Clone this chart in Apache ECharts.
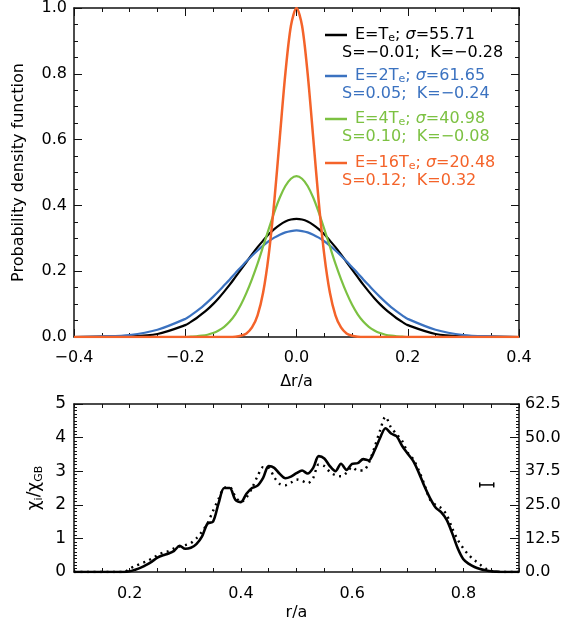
<!DOCTYPE html>
<html>
<head>
<meta charset="utf-8">
<script src="https://cdn.jsdelivr.net/npm/echarts@6/dist/echarts.min.js"></script>
<style>
html, body { margin: 0; padding: 0; background: #fff; }
#main { width: 566px; height: 630px; }
</style>
</head>
<body>
<div id="main"></div>
<script>
// ---- top panel: PDF of radial displacement ----
var pdfX = [-0.4, -0.35, -0.3, -0.25, -0.2, -0.19, -0.18, -0.17, -0.16, -0.15, -0.14, -0.13, -0.12, -0.11, -0.1,
    -0.09, -0.08, -0.07, -0.06, -0.05, -0.04, -0.03, -0.02, -0.01, 0,
    0.01, 0.02, 0.03, 0.04, 0.05, 0.06, 0.07, 0.08, 0.09, 0.1,
    0.11, 0.12, 0.13, 0.14, 0.15, 0.16, 0.17, 0.18, 0.19, 0.2, 0.25, 0.3, 0.35, 0.4];
var pdfT1 = [0, 0.001, 0.002, 0.009, 0.036, 0.046, 0.057, 0.070, 0.084, 0.100, 0.118, 0.138, 0.159, 0.182, 0.205,
    0.228, 0.251, 0.273, 0.293, 0.312, 0.328, 0.341, 0.351, 0.357, 0.359,
    0.357, 0.351, 0.341, 0.328, 0.312, 0.293, 0.273, 0.251, 0.228, 0.205,
    0.182, 0.159, 0.138, 0.118, 0.100, 0.084, 0.070, 0.057, 0.046, 0.036, 0.009, 0.002, 0.001, 0];
var pdfT2 = [0, 0.002, 0.006, 0.022, 0.055, 0.066, 0.078, 0.091, 0.106, 0.122, 0.139, 0.157, 0.175, 0.194, 0.212,
    0.230, 0.247, 0.263, 0.278, 0.291, 0.302, 0.311, 0.318, 0.322, 0.324,
    0.322, 0.318, 0.311, 0.302, 0.291, 0.278, 0.263, 0.247, 0.230, 0.212,
    0.194, 0.175, 0.157, 0.139, 0.122, 0.106, 0.091, 0.078, 0.066, 0.055, 0.022, 0.006, 0.002, 0];
var pdfT4 = [0, 0, 0, 0, 0, 0.001, 0.002, 0.004, 0.007, 0.012, 0.020, 0.031, 0.047, 0.069, 0.098,
    0.134, 0.176, 0.223, 0.275, 0.328, 0.379, 0.424, 0.459, 0.481, 0.489,
    0.481, 0.459, 0.424, 0.379, 0.328, 0.275, 0.223, 0.176, 0.134, 0.098,
    0.069, 0.047, 0.031, 0.020, 0.012, 0.007, 0.004, 0.002, 0.001, 0, 0, 0, 0, 0];
var pdfT16 = [0, 0, 0, 0, 0, 0, 0, 0, 0, 0, 0, 0, 0, 0.001, 0.004,
    0.011, 0.029, 0.066, 0.135, 0.249, 0.411, 0.607, 0.801, 0.946, 1.0,
    0.946, 0.801, 0.607, 0.411, 0.249, 0.135, 0.066, 0.029, 0.011, 0.004,
    0.001, 0, 0, 0, 0, 0, 0, 0, 0, 0, 0, 0, 0, 0];

var pdfEnergy = ['', '2', '4', '16'];
var pdfSigma = ['55.71', '61.65', '40.98', '20.48'];
var pdfSK = ['S=\u22120.01;  K=\u22120.28', 'S=0.05;  K=\u22120.24', 'S=0.10;  K=\u22120.08', 'S=0.12;  K=0.32'];
var pdfColors = ['#000000', '#3b72c0', '#7cc142', '#f4632a'];
var pdfLegendY = [35, 76, 119, 163];

// ---- bottom panel: chi_i / chi_GB profile ----
var rX = [0.10, 0.11, 0.12, 0.13, 0.14, 0.15, 0.16, 0.17, 0.18, 0.19,
    0.20, 0.21, 0.22, 0.23, 0.24, 0.25, 0.26, 0.27, 0.28, 0.29,
    0.30, 0.31, 0.32, 0.33, 0.34, 0.35, 0.36, 0.37, 0.38, 0.39,
    0.40, 0.41, 0.42, 0.43, 0.44, 0.45, 0.46, 0.47, 0.48, 0.49,
    0.50, 0.51, 0.52, 0.53, 0.54, 0.55, 0.56, 0.57, 0.58, 0.59,
    0.60, 0.61, 0.62, 0.63, 0.64, 0.65, 0.66, 0.67, 0.68, 0.69,
    0.70, 0.71, 0.72, 0.73, 0.74, 0.75, 0.76, 0.77, 0.78, 0.79,
    0.80, 0.81, 0.82, 0.83, 0.84, 0.85, 0.86, 0.87, 0.88, 0.89, 0.90];
var chiSolid = [0, 0, 0, 0, 0, 0, 0, 0, 0, 0,
    0.02, 0.07, 0.13, 0.21, 0.31, 0.43, 0.50, 0.55, 0.63, 0.78,
    0.69, 0.72, 0.83, 1.05, 1.44, 1.50, 2.05, 2.50, 2.50, 2.15,
    2.08, 2.33, 2.50, 2.57, 2.80, 3.15, 3.10, 2.92, 2.79, 2.84,
    2.94, 3.02, 2.93, 3.10, 3.45, 3.38, 3.15, 3.00, 3.22, 3.04,
    3.22, 3.24, 3.36, 3.32, 3.60, 3.98, 4.28, 4.12, 4.04, 3.75,
    3.52, 3.30, 2.95, 2.55, 2.20, 1.92, 1.78, 1.55, 1.15, 0.70,
    0.38, 0.24, 0.15, 0.09, 0.05, 0.02, 0.01, 0, 0, 0, 0];
// dotted curve, right axis units
var chiDotted = [0, 0, 0, 0, 0, 0, 0, 0, 0, 0,
    1.25, 2.25, 3.1, 3.9, 5.0, 6.25, 7.25, 7.75, 8.75, 9.5,
    10.0, 10.75, 12.5, 15.0, 18.1, 22.75, 27.25, 31.25, 31.5, 28.1,
    26.0, 27.75, 31.25, 35.6, 39.0, 38.75, 35.25, 32.75, 32.25, 33.25,
    34.4, 33.9, 33.0, 35.0, 40.0, 39.4, 37.25, 36.0, 35.6, 36.9,
    39.0, 37.75, 37.75, 40.6, 46.25, 52.5, 57.75, 53.75, 51.25, 48.75,
    44.4, 41.9, 37.75, 32.5, 26.9, 25.0, 23.75, 21.25, 16.25, 11.9,
    8.75, 6.25, 4.4, 2.75, 1.25, 0.4, 0, 0, 0, 0, 0];
var errX = [0.842];
var errY = [32.4];
var errHalfWidth = [0.0126];

var FONT = 'DejaVu Sans';

function pairs(xs, ys) {
    return xs.map(function (x, i) { return [x, ys[i]]; });
}

function legendGraphic() {
    var items = [];
    pdfColors.forEach(function (c, i) {
        var y = pdfLegendY[i];
        items.push({
            type: 'line',
            shape: {x1: 325, y1: y, x2: 347, y2: y},
            style: {stroke: c, lineWidth: 2.5}
        });
        items.push({
            type: 'text',
            x: 355, y: y,
            style: {
                text: '{n|E=' + pdfEnergy[i] + 'T}{s|e}{n|; }{g|\u03c3}{n|=' + pdfSigma[i] + '}',
                verticalAlign: 'middle',
                rich: {
                    n: {fontFamily: FONT, fontSize: 16, fill: c, lineHeight: 18},
                    s: {fontFamily: FONT, fontSize: 11, fill: c, lineHeight: 11, verticalAlign: 'bottom', padding: [6, 0, 0, 0]},
                    g: {fontFamily: FONT, fontSize: 16, fill: c, fontStyle: 'italic', lineHeight: 18}
                }
            }
        });
        items.push({
            type: 'text',
            x: 342, y: y + 18,
            style: {text: pdfSK[i], fill: c, fontFamily: FONT, fontSize: 16, verticalAlign: 'middle'}
        });
    });
    return items;
}

function initChart() {
    var myChart = echarts.init(document.getElementById('main'), null, {renderer: 'canvas'});
    var axisLine = {show: true, onZero: false, lineStyle: {color: '#111', width: 1.5}};
    var label16 = {color: '#000', fontFamily: FONT, fontSize: 16};

    var option = {
        animation: false,
        backgroundColor: '#fff',
        grid: [
            {left: 74, right: 47, top: 4, height: 333},
            {left: 74, right: 47, top: 404, height: 168}
        ],
        xAxis: [
            {
                gridIndex: 0, type: 'value', min: -0.4, max: 0.4, interval: 0.2,
                name: '\u0394r/a', nameLocation: 'middle', nameGap: 37,
                nameTextStyle: {color: '#000', fontFamily: FONT, fontSize: 16},
                axisLine: axisLine,
                axisTick: {inside: true, length: 8, lineStyle: {color: '#111'}},
                minorTick: {show: true, splitNumber: 4, length: 4, lineStyle: {color: '#111'}},
                axisLabel: Object.assign({margin: 13, formatter: function (v) { return v.toFixed(1).replace('-', '\u2212'); }}, label16),
                splitLine: {show: false}
            },
            {
                gridIndex: 0, type: 'value', position: 'top', min: -0.4, max: 0.4, interval: 0.2,
                axisLine: axisLine,
                axisTick: {inside: true, length: 8, lineStyle: {color: '#111'}},
                minorTick: {show: true, splitNumber: 4, length: 4, lineStyle: {color: '#111'}},
                axisLabel: {show: false}, splitLine: {show: false}
            },
            {
                gridIndex: 1, type: 'value', min: 0.1, max: 0.9, interval: 0.05,
                name: 'r/a', nameLocation: 'middle', nameGap: 33,
                nameTextStyle: {color: '#000', fontFamily: FONT, fontSize: 16},
                axisLine: axisLine,
                axisTick: {inside: true, length: 4, lineStyle: {color: '#111'}},
                axisLabel: Object.assign({
                    margin: 14,
                    formatter: function (v) {
                        var k = v * 5;
                        if (Math.abs(k - Math.round(k)) < 1e-6 && v > 0.15 && v < 0.85) {
                            return v.toFixed(1);
                        }
                        return '';
                    }
                }, label16),
                splitLine: {show: false}
            },
            {
                gridIndex: 1, type: 'value', position: 'top', min: 0.1, max: 0.9, interval: 0.05,
                axisLine: axisLine,
                axisTick: {inside: true, length: 4, lineStyle: {color: '#111'}},
                axisLabel: {show: false}, splitLine: {show: false}
            }
        ],
        yAxis: [
            {
                gridIndex: 0, type: 'value', min: 0, max: 1, interval: 0.2,
                name: 'Probability density function', nameLocation: 'middle', nameGap: 47,
                nameTextStyle: {color: '#000', fontFamily: FONT, fontSize: 16},
                axisLine: axisLine,
                axisTick: {inside: true, length: 8, lineStyle: {color: '#111'}},
                minorTick: {show: true, splitNumber: 4, length: 4, lineStyle: {color: '#111'}},
                axisLabel: Object.assign({margin: 7, formatter: function (v) { return v.toFixed(1); }}, label16),
                splitLine: {show: false}
            },
            {
                gridIndex: 0, type: 'value', position: 'right', min: 0, max: 1, interval: 0.2,
                axisLine: axisLine,
                axisTick: {inside: true, length: 8, lineStyle: {color: '#111'}},
                minorTick: {show: true, splitNumber: 4, length: 4, lineStyle: {color: '#111'}},
                axisLabel: {show: false}, splitLine: {show: false}
            },
            {
                gridIndex: 1, type: 'value', min: 0, max: 5, interval: 1,
                name: '{a|\u03c7}{s|i}{a|/\u03c7}{s|GB}', nameLocation: 'middle', nameGap: 26,
                nameTextStyle: {
                    color: '#000',
                    rich: {
                        a: {fontFamily: FONT, fontSize: 17, color: '#000', lineHeight: 20},
                        s: {fontFamily: FONT, fontSize: 11, color: '#000', lineHeight: 11, verticalAlign: 'bottom', padding: [7, 0, 0, 0]}
                    }
                },
                axisLine: axisLine,
                axisTick: {inside: true, length: 9, lineStyle: {color: '#111'}},
                minorTick: {show: true, splitNumber: 10, length: 3, lineStyle: {color: '#111'}},
                axisLabel: Object.assign({margin: 8}, label16, {fontSize: 17}),
                splitLine: {show: false}
            },
            {
                gridIndex: 1, type: 'value', position: 'right', min: 0, max: 62.5, interval: 12.5,
                axisLine: axisLine,
                axisTick: {inside: true, length: 9, lineStyle: {color: '#111'}},
                minorTick: {show: true, splitNumber: 10, length: 3, lineStyle: {color: '#111'}},
                axisLabel: Object.assign({margin: 6, formatter: function (v) { return v.toFixed(1); }}, label16),
                splitLine: {show: false}
            }
        ],
        graphic: legendGraphic(),
        series: [
            {type: 'line', xAxisIndex: 0, yAxisIndex: 0, data: pairs(pdfX, pdfT1), smooth: 0.3, showSymbol: false, lineStyle: {color: pdfColors[0], width: 2.2}},
            {type: 'line', xAxisIndex: 0, yAxisIndex: 0, data: pairs(pdfX, pdfT2), smooth: 0.3, showSymbol: false, lineStyle: {color: pdfColors[1], width: 2.2}},
            {type: 'line', xAxisIndex: 0, yAxisIndex: 0, data: pairs(pdfX, pdfT4), smooth: 0.3, showSymbol: false, lineStyle: {color: pdfColors[2], width: 2.2}},
            {type: 'line', xAxisIndex: 0, yAxisIndex: 0, data: pairs(pdfX, pdfT16), smooth: 0.3, showSymbol: false, lineStyle: {color: pdfColors[3], width: 2.5}},
            {type: 'line', xAxisIndex: 2, yAxisIndex: 2, data: pairs(rX, chiSolid), smooth: 0.3, showSymbol: false, lineStyle: {color: '#000', width: 2.6}},
            {type: 'line', xAxisIndex: 2, yAxisIndex: 3, data: pairs(rX, chiDotted), smooth: 0.3, showSymbol: false, lineStyle: {color: '#000', width: 2.4, type: [2, 4.5], cap: 'butt'}},
            {
                type: 'custom', xAxisIndex: 2, yAxisIndex: 3,
                data: errX.map(function (x, i) { return [x, errY[i], errHalfWidth[i]]; }),
                renderItem: function (params, api) {
                    var l = api.coord([api.value(0) - api.value(2), api.value(1)]);
                    var r = api.coord([api.value(0) + api.value(2), api.value(1)]);
                    var st = {stroke: '#000', lineWidth: 1.5};
                    return {
                        type: 'group',
                        children: [
                            {type: 'line', shape: {x1: l[0], y1: l[1], x2: r[0], y2: r[1]}, style: st},
                            {type: 'line', shape: {x1: l[0], y1: l[1] - 2.5, x2: l[0], y2: l[1] + 2.5}, style: st},
                            {type: 'line', shape: {x1: r[0], y1: r[1] - 2.5, x2: r[0], y2: r[1] + 2.5}, style: st}
                        ]
                    };
                }
            }
        ]
    };
    if (option && typeof option === "object") {
        myChart.setOption(option, true);
    }
}

initChart();
</script>
</body>
</html>
